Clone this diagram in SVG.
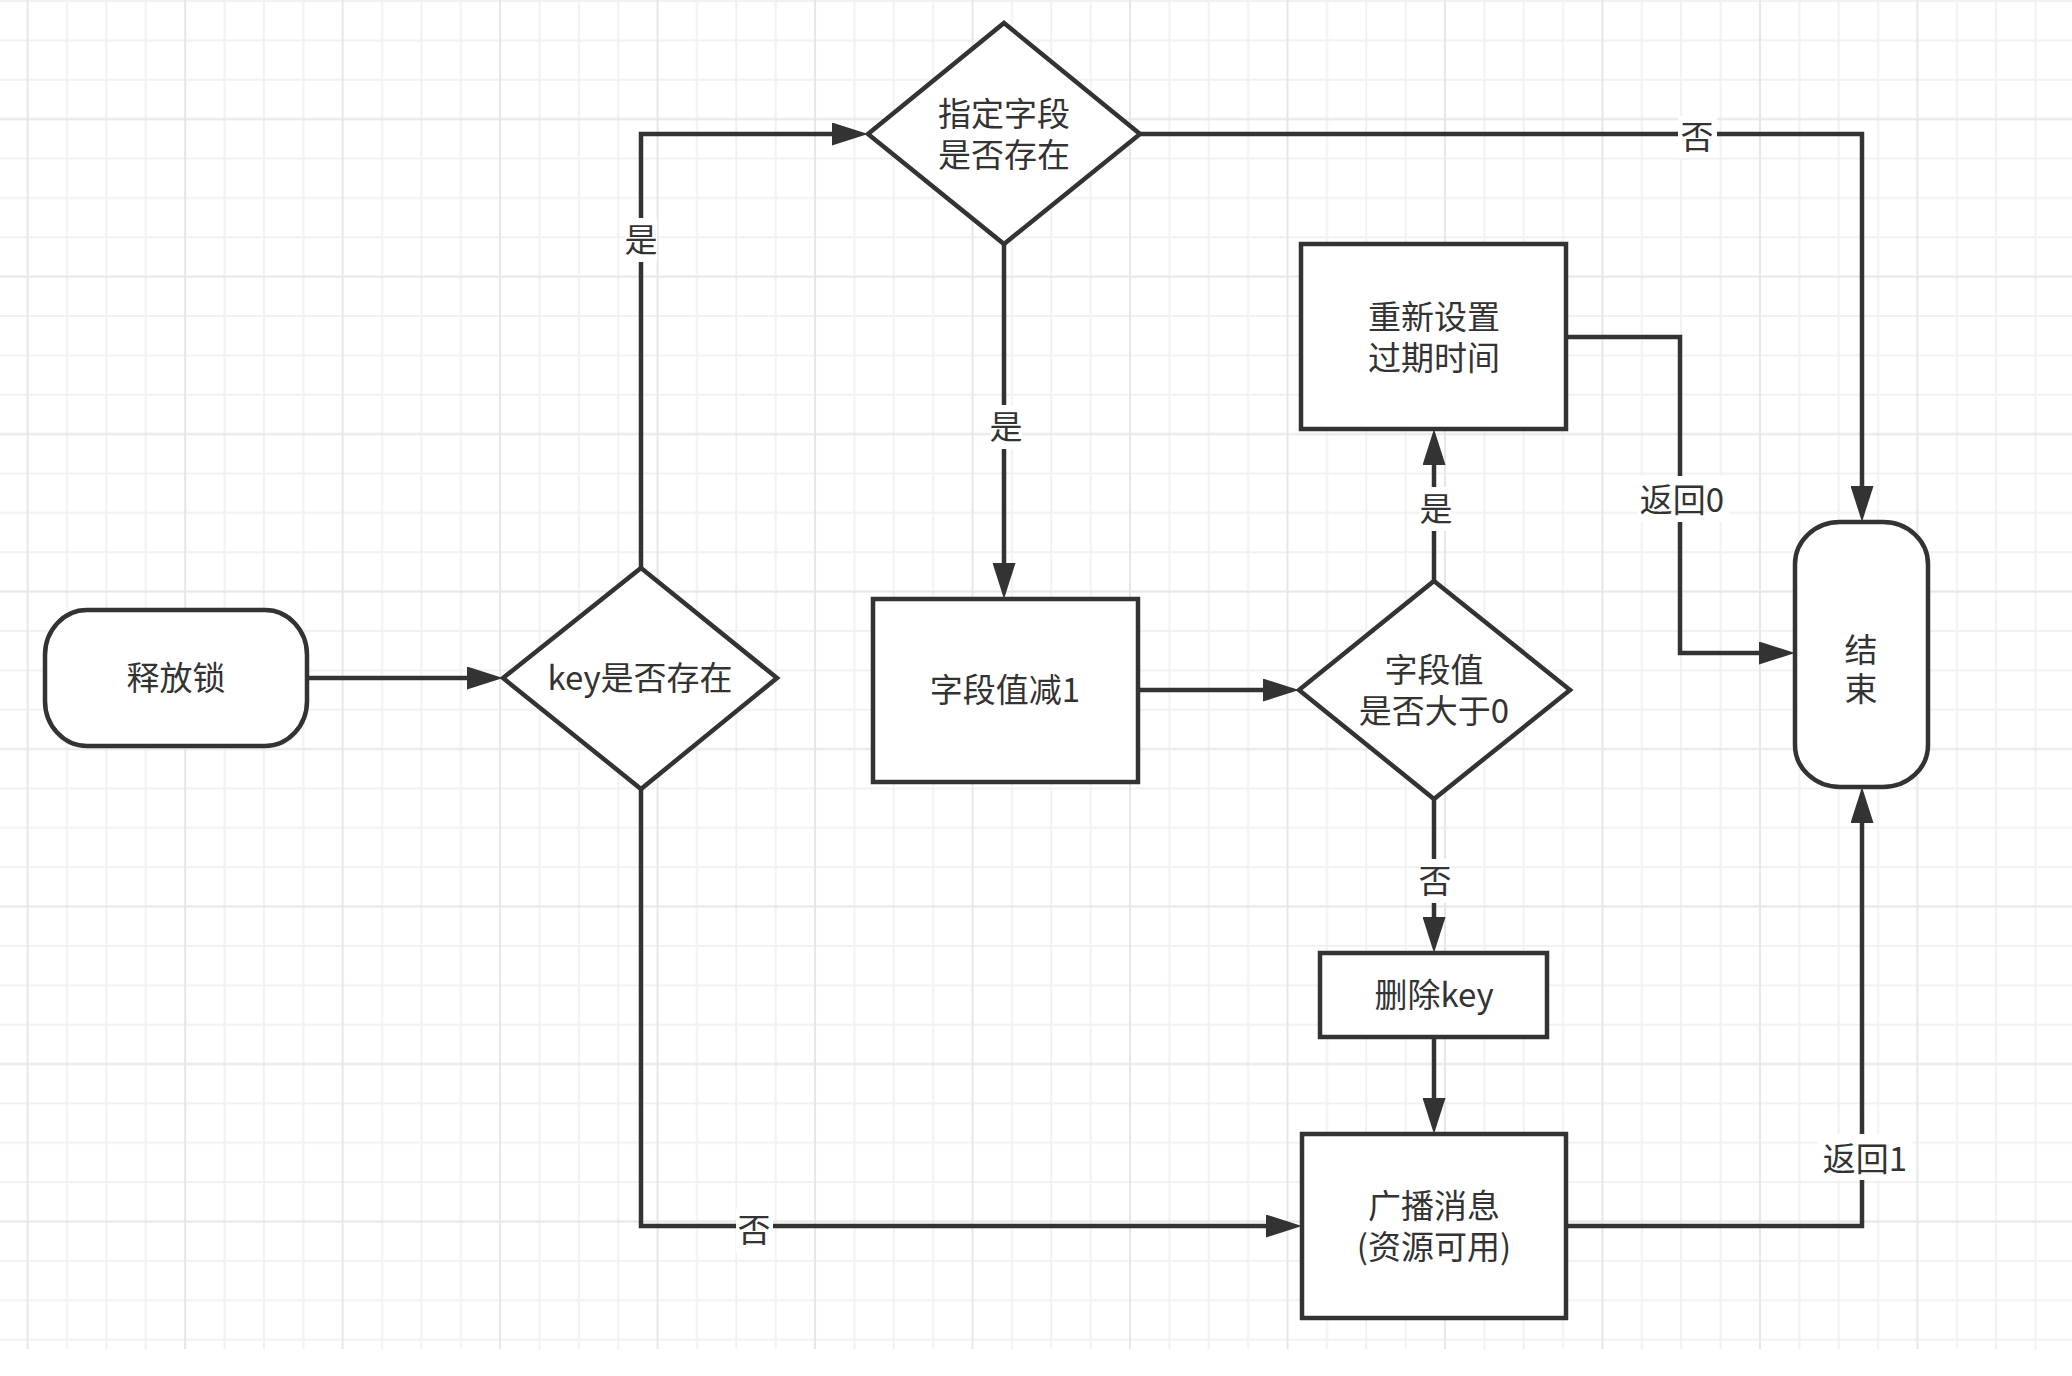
<svg xmlns="http://www.w3.org/2000/svg" width="2072" height="1376" viewBox="0 0 2072 1376">
<defs>
<pattern id="grid" patternUnits="userSpaceOnUse" x="7.7" y="-18.9" width="157.48" height="157.48">
<path d="M59.37,0V157.48M98.74,0V157.48M138.11,0V157.48M0,20H157.48M0,59.37H157.48M0,98.74H157.48" stroke="#f1f1f1" stroke-width="2" fill="none"/>
<path d="M20,0V157.48M0,138.11H157.48" stroke="#e6e6e6" stroke-width="2" fill="none"/>
</pattern>
<marker id="arr" markerUnits="userSpaceOnUse" markerWidth="36" markerHeight="23" refX="10" refY="11.5" orient="auto">
<path d="M0,0L36,11.5L0,23Z" fill="#333"/>
</marker>
<style>
.n{fill:#fff;stroke:#333;stroke-width:4.5;stroke-linejoin:miter}
.t{font-family:"Noto Sans CJK SC","Noto Sans",sans-serif;font-size:33px;fill:#333;text-anchor:middle;dominant-baseline:central}
.c{fill:none;stroke:#333;stroke-width:4.5;stroke-linejoin:miter}
.bg{fill:#fff}
</style>
</defs>
<rect x="0" y="0" width="2072" height="1376" fill="#fff"/>
<rect x="0" y="0" width="2072" height="1349" fill="url(#grid)"/>

<g id="connectors">
<path class="c" d="M307,678H477" marker-end="url(#arr)"/>
<path class="c" d="M641,568V134H842" marker-end="url(#arr)"/>
<path class="c" d="M1140,134H1862V496" marker-end="url(#arr)"/>
<path class="c" d="M1004,244V573" marker-end="url(#arr)"/>
<path class="c" d="M1138,690H1273" marker-end="url(#arr)"/>
<path class="c" d="M1434,581V455" marker-end="url(#arr)"/>
<path class="c" d="M1566,337H1680V653H1769" marker-end="url(#arr)"/>
<path class="c" d="M1434,799V927" marker-end="url(#arr)"/>
<path class="c" d="M1434,1037V1108" marker-end="url(#arr)"/>
<path class="c" d="M641,789V1226H1276" marker-end="url(#arr)"/>
<path class="c" d="M1566,1226H1862V813" marker-end="url(#arr)"/>
<g id="labels">
<rect class="bg" x="625" y="218" width="32" height="44"/><text class="t" x="641" y="238">是</text>
<rect class="bg" x="1678" y="116" width="39" height="42"/><text class="t" x="1697" y="135">否</text>
<rect class="bg" x="990" y="405" width="32" height="44"/><text class="t" x="1006" y="425">是</text>
<rect class="bg" x="1420" y="487" width="32" height="44"/><text class="t" x="1436" y="507">是</text>
<rect class="bg" x="1637" y="476" width="92" height="46"/><text class="t" x="1682" y="498">返回0</text>
<rect class="bg" x="1419" y="859" width="32" height="44"/><text class="t" x="1435" y="879">否</text>
<rect class="bg" x="736" y="1209" width="37" height="44"/><text class="t" x="754" y="1228">否</text>
<rect class="bg" x="1818" y="1134" width="94" height="46"/><text class="t" x="1865" y="1157">返回1</text>
</g>
</g>

<g id="start">
<rect class="n" x="45" y="610" width="262" height="136" rx="42" ry="45"/>
<text class="t" x="176" y="676">释放锁</text>
</g>
<g id="key-exists">
<polygon class="n" points="641,568 777,678 641,789 503,678"/>
<text class="t" x="640" y="676">key是否存在</text>
</g>
<g id="field-exists">
<polygon class="n" points="1004,23 1140,134 1004,244 868,134"/>
<text class="t" x="1004" y="112">指定字段<tspan x="1004" dy="41">是否存在</tspan></text>
</g>
<g id="decrement">
<rect class="n" x="873" y="599" width="265" height="183"/>
<text class="t" x="1005" y="688">字段值减1</text>
</g>
<g id="gt-zero">
<polygon class="n" points="1434,581 1570,690 1434,799 1299,690"/>
<text class="t" x="1434" y="668">字段值<tspan x="1434" dy="41">是否大于0</tspan></text>
</g>
<g id="reset-expire">
<rect class="n" x="1301" y="244" width="265" height="185"/>
<text class="t" x="1434" y="315">重新设置<tspan x="1434" dy="41">过期时间</tspan></text>
</g>
<g id="delete-key">
<rect class="n" x="1320" y="953" width="227" height="84"/>
<text class="t" x="1434" y="993">删除key</text>
</g>
<g id="broadcast">
<rect class="n" x="1302" y="1134" width="264" height="184"/>
<text class="t" x="1434" y="1204">广播消息<tspan x="1434" dy="41">(资源可用)</tspan></text>
</g>
<g id="end">
<rect class="n" x="1795" y="522" width="133" height="265" rx="45" ry="42"/>
<text class="t" x="1861" y="648">结<tspan x="1861" dy="39">束</tspan></text>
</g>
</svg>
